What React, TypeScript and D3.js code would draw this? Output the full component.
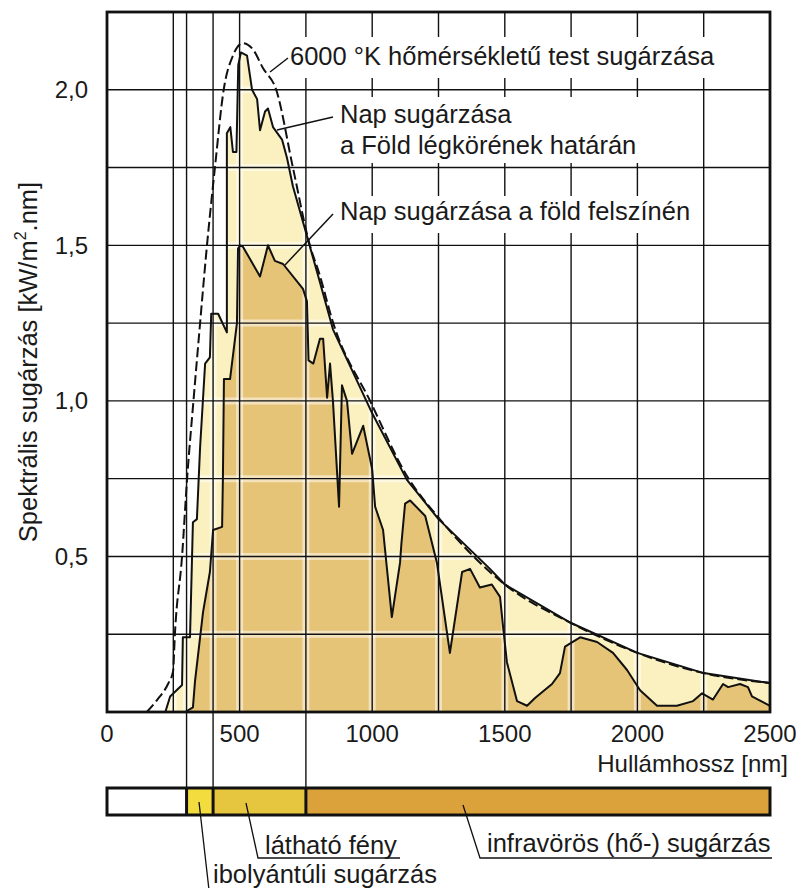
import React from "react";
import * as d3 from "d3";

// ---- data (wavelength nm, spectral irradiance kW/m².nm) ----
const blackbody6000: [number, number][] = [
  [150, 0], [190, 0.04], [230, 0.09], [249, 0.13], [256, 0.25], [283, 0.5], [302, 0.75],
  [326, 1.0], [351, 1.25], [377, 1.5], [407, 1.75], [440, 2.0], [475, 2.11], [513, 2.15],
  [550, 2.13], [588, 2.07], [638, 2.0], [701, 1.75], [765, 1.5], [800, 1.41], [853, 1.25],
  [992, 1.0], [1130, 0.76], [1250, 0.625], [1500, 0.41], [1750, 0.286], [2000, 0.19],
  [2250, 0.125], [2500, 0.093],
];

const extraterrestrial: [number, number][] = [
  [220, 0], [238, 0.05], [283, 0.087], [286, 0.24], [313, 0.24], [324, 0.61], [339, 0.62],
  [351, 0.85], [370, 1.12], [388, 1.14], [393, 1.28], [419, 1.28], [452, 1.22], [452, 1.86],
  [465, 1.88], [475, 1.8], [488, 1.8], [495, 2.08], [505, 2.12], [528, 2.11], [547, 2.0],
  [566, 1.97], [577, 1.87], [596, 1.93], [607, 1.94], [626, 1.88], [660, 1.84], [679, 1.78],
  [701, 1.69], [754, 1.53], [800, 1.39], [852, 1.23], [1000, 0.96], [1131, 0.746],
  [1250, 0.62], [1444, 0.46], [1500, 0.41], [1750, 0.286], [2000, 0.19], [2250, 0.125],
  [2500, 0.093],
];

const surface: [number, number][] = [
  [295, 0], [324, 0.015], [332, 0.1], [362, 0.32], [388, 0.45], [400, 0.585], [434, 0.595],
  [437, 0.75], [441, 1.07], [464, 1.07], [490, 1.25], [494, 1.49], [502, 1.5], [513, 1.495],
  [577, 1.4], [607, 1.5], [633, 1.45], [664, 1.44], [739, 1.36], [754, 1.32], [760, 1.13],
  [778, 1.12], [803, 1.2], [815, 1.2], [830, 1.01], [841, 1.12], [852, 1.0], [875, 0.66],
  [886, 1.05], [905, 1.0], [924, 0.83], [966, 0.92], [1000, 0.78], [1011, 0.66],
  [1041, 0.585], [1074, 0.305], [1105, 0.48], [1110, 0.54], [1124, 0.67], [1143, 0.68],
  [1200, 0.63], [1244, 0.48], [1293, 0.19], [1339, 0.45], [1369, 0.46], [1406, 0.4],
  [1451, 0.41], [1482, 0.37], [1494, 0.27], [1508, 0.16], [1546, 0.035], [1584, 0.02],
  [1614, 0.045], [1678, 0.09], [1708, 0.125], [1727, 0.21], [1784, 0.24], [1848, 0.225],
  [1908, 0.19], [1961, 0.135], [2010, 0.07], [2074, 0.02], [2149, 0.02], [2210, 0.035],
  [2244, 0.06], [2285, 0.04], [2323, 0.09], [2342, 0.08], [2387, 0.09], [2417, 0.08],
  [2432, 0.05], [2455, 0.04], [2500, 0.02],
];

const xTicks = [0, 500, 1000, 1500, 2000, 2500];
const yTicks = [0.5, 1.0, 1.5, 2.0];
const yTickLabels = ["0,5", "1,0", "1,5", "2,0"];
const xGrid = [250, 300, 400, 500, 750, 1000, 1250, 1500, 1750, 2000, 2250];
const yGrid = [0.25, 0.5, 0.75, 1.0, 1.25, 1.5, 1.75, 2.0];
const bandEdges = [0, 300, 400, 750, 2500];
const bandColors = ["#ffffff", "#f2dc3e", "#e7c63f", "#dba23b"];
const bandDividers = [300, 400, 750];

const FONT = "'Liberation Sans', Arial, Helvetica, sans-serif";

export default function App() {
  const x = d3.scaleLinear().domain([0, 2500]).range([107, 770]);
  const y = d3.scaleLinear().domain([0, 2.25]).range([712, 12]);

  const line = d3.line<[number, number]>().x((d) => x(d[0])).y((d) => y(d[1]));
  const smooth = d3
    .line<[number, number]>()
    .x((d) => x(d[0]))
    .y((d) => y(d[1]))
    .curve(d3.curveMonotoneX);
  const area = d3
    .area<[number, number]>()
    .x((d) => x(d[0]))
    .y0(y(0))
    .y1((d) => y(d[1]));

  const bandTop = 788;
  const bandBot = 815;

  return (
    <svg
      width={800}
      height={888}
      style={{ position: "absolute", left: 0, top: 0, background: "#fff" }}
      fontFamily={FONT}
    >
      <rect x={0} y={0} width={800} height={888} fill="#fff" />
      {/* fills */}
      <path d={area(extraterrestrial) || ""} fill="#fbf1c0" />
      <path d={area(surface) || ""} fill="#e6c477" />

      {/* grid casing (light halo) */}
      <g stroke="#fff" strokeOpacity={0.5} strokeWidth={7}>
        {xGrid.map((v) => (
          <line key={"cx" + v} x1={x(v)} x2={x(v)} y1={y(2.25)} y2={y(0)} />
        ))}
        {yGrid.map((v) => (
          <line key={"cy" + v} x1={x(0)} x2={x(2500)} y1={y(v)} y2={y(v)} />
        ))}
      </g>
      {/* grid */}
      <g stroke="#111" strokeWidth={1.4}>
        {xGrid.map((v) => (
          <line key={"gx" + v} x1={x(v)} x2={x(v)} y1={y(2.25)} y2={y(0)} />
        ))}
        {yGrid.map((v) => (
          <line key={"gy" + v} x1={x(0)} x2={x(2500)} y1={y(v)} y2={y(v)} />
        ))}
        {bandDividers.map((v) => (
          <line key={"ext" + v} x1={x(v)} x2={x(v)} y1={y(0)} y2={bandTop} />
        ))}
      </g>

      {/* label backgrounds */}
      <rect x={284} y={37} width={436} height={41} fill="#fff" />
      <rect x={335} y={97} width={308} height={66} fill="#fff" />
      <rect x={335} y={196} width={364} height={37} fill="#fff" />

      {/* curves */}
      <path
        d={smooth(blackbody6000) || ""}
        fill="none"
        stroke="#111"
        strokeWidth={2}
        strokeDasharray="10 4"
      />
      <path d={line(extraterrestrial) || ""} fill="none" stroke="#111" strokeWidth={2} strokeLinejoin="round" />
      <path d={line(surface) || ""} fill="none" stroke="#111" strokeWidth={2} strokeLinejoin="round" />

      {/* plot border */}
      <rect
        x={x(0)}
        y={y(2.25)}
        width={x(2500) - x(0)}
        height={y(0) - y(2.25)}
        fill="none"
        stroke="#111"
        strokeWidth={2.8}
      />

      {/* y ticks */}
      <g fontSize={24} fill="#1a1a1a" textAnchor="end">
        {yTicks.map((v, i) => (
          <text key={"yt" + v} x={88} y={y(v) + 8.5}>
            {yTickLabels[i]}
          </text>
        ))}
      </g>
      {/* x ticks */}
      <g fontSize={24} fill="#1a1a1a" textAnchor="middle">
        {xTicks.map((v) => (
          <text key={"xt" + v} x={x(v)} y={742}>
            {v}
          </text>
        ))}
      </g>
      <text x={788} y={772} fontSize={24} textAnchor="end" fill="#1a1a1a">
        Hullámhossz [nm]
      </text>
      <text
        transform="translate(37,362) rotate(-90)"
        fontSize={25.5}
        textAnchor="middle"
        fill="#1a1a1a"
      >
        Spektrális sugárzás [kW/m
        <tspan fontSize={16} dy={-11}>2</tspan>
        <tspan dy={11}>.nm]</tspan>
      </text>

      {/* annotations */}
      <g stroke="#111" strokeWidth={1.5}>
        <line x1={270} y1={72} x2={288} y2={58} />
        <line x1={277} y1={130} x2={333} y2={117} />
        <line x1={285} y1={265} x2={333} y2={214} />
      </g>
      <g fontSize={25.5} fill="#1a1a1a">
        <text x={290} y={65}>6000 °K hőmérsékletű test sugárzása</text>
        <text x={340} y={123}>Nap sugárzása</text>
        <text x={340} y={154}>a Föld légkörének határán</text>
        <text x={340} y={220}>Nap sugárzása a föld felszínén</text>
      </g>

      {/* spectrum band */}
      {bandColors.map((c, i) => (
        <rect
          key={"b" + i}
          x={x(bandEdges[i])}
          y={bandTop}
          width={x(bandEdges[i + 1]) - x(bandEdges[i])}
          height={bandBot - bandTop}
          fill={c}
        />
      ))}
      <rect
        x={x(0)}
        y={bandTop}
        width={x(2500) - x(0)}
        height={bandBot - bandTop}
        fill="none"
        stroke="#111"
        strokeWidth={3}
      />
      <g stroke="#111" strokeWidth={3}>
        {bandDividers.map((v) => (
          <line key={"bd" + v} x1={x(v)} x2={x(v)} y1={bandTop} y2={bandBot} />
        ))}
      </g>

      {/* band labels */}
      <g stroke="#111" strokeWidth={1.3} fill="none">
        <polyline points="246,803 258,858 400,858" />
        <polyline points="463,805 480,858 772,858" />
        <line x1={199} y1={802} x2={209} y2={890} />
      </g>
      <g fontSize={25.5} fill="#1a1a1a">
        <text x={265} y={854}>látható fény</text>
        <text x={487} y={852}>infravörös (hő-) sugárzás</text>
        <text x={213} y={883}>ibolyántúli sugárzás</text>
      </g>
    </svg>
  );
}
